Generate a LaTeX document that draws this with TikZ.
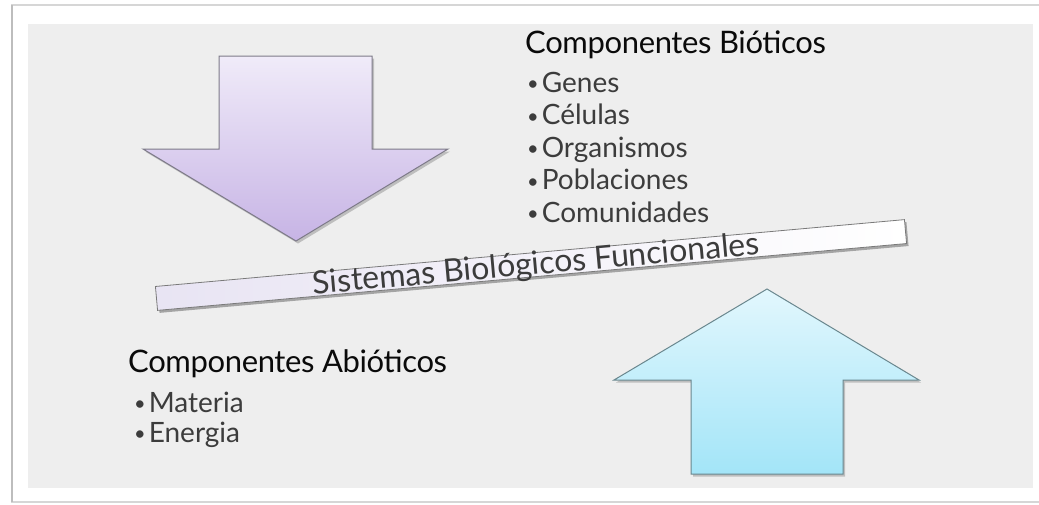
\documentclass[tikz,border=0pt]{standalone}
\usepackage{fontspec}
\setmainfont{Lato}
\usetikzlibrary{shadows}
\definecolor{panel}{HTML}{EEEEEE}
\definecolor{framegray}{HTML}{D6D6D6}
\definecolor{frameleft}{HTML}{BDBDBD}
\definecolor{purptop}{HTML}{F0EBF9}
\definecolor{purpbot}{HTML}{C7B4E5}
\definecolor{purpline}{HTML}{7D7A88}
\definecolor{cyantop}{HTML}{E2F7FD}
\definecolor{cyanbot}{HTML}{A3E5F8}
\definecolor{cyanline}{HTML}{6A878E}
\definecolor{bannerleft}{HTML}{E8E4F3}
\definecolor{bannerline}{HTML}{7A7A7A}
\definecolor{textgray}{HTML}{3C3C3C}
\definecolor{titleblack}{HTML}{0A0A0A}
\tikzset{
  bigarrow/.style={line width=1pt, drop shadow={shadow xshift=2pt, shadow yshift=-2.5pt, opacity=0.35, fill=black!60}},
  bannerbox/.style={draw=bannerline, line width=0.8pt, left color=bannerleft, right color=white, inner sep=0pt,
     drop shadow={shadow xshift=2pt, shadow yshift=-2.5pt, opacity=0.45, fill=black!70}},
  titletext/.style={anchor=base west, inner sep=0pt, text=titleblack, font=\fontsize{31}{36}\selectfont\addfontfeature{LetterSpace=-1.2}},
  itemtext/.style={anchor=base west, inner sep=0pt, text=textgray, font=\fontsize{28}{32}\selectfont},
}
\newcommand{\itembullet}{{\fontsize{20}{24}\selectfont\raisebox{1.5pt}{\textbullet}}\hspace{3pt}}
\begin{document}
\begin{tikzpicture}[x=1pt,y=-1pt]
\useasboundingbox (0,0) rectangle (1039,504);
\fill[white] (0,0) rectangle (1039,504);
% outer frame
\draw[framegray, line width=1.2pt] (11,5) -- (1039,5);
\draw[framegray, line width=1.5pt] (11,502) -- (1039,502);
\draw[frameleft, line width=1.5pt] (12,5) -- (12,502);
% gray panel
\fill[panel] (28,24) rectangle (1033,488);
% down arrow (purple)
\draw[bigarrow, draw=purpline, top color=purptop, bottom color=purpbot]
  (219,56) -- (372,56) -- (372,149) -- (448,149) -- (296,241) -- (143,149) -- (219,149) -- cycle;
% up arrow (cyan)
\draw[bigarrow, draw=cyanline, top color=cyantop, bottom color=cyanbot]
  (691,474) -- (843,474) -- (843,380) -- (919,380) -- (767,289) -- (614,380) -- (691,380) -- cycle;
% banner
\node[bannerbox, rotate=5.1, minimum width=752pt, minimum height=24pt] (banner) at (531,265) {};
\node[anchor=base, rotate=5.1, inner sep=0pt, text=textgray, font=\fontsize{32}{38}\selectfont] (bannertext) at (537,274.5) {Sistemas Biológicos Funcionales};
% biotic
\node[titletext] (biotitle) at (525,53) {Componentes Bióticos};
\node[itemtext] (b1) at (527,92) {\itembullet Genes};
\node[itemtext] (b2) at (527,124.5) {\itembullet Células};
\node[itemtext] (b3) at (527,157) {\itembullet Organismos};
\node[itemtext] (b4) at (527,189.5) {\itembullet Poblaciones};
\node[itemtext] (b5) at (527,222) {\itembullet Comunidades};
% abiotic
\node[titletext] (abiotitle) at (128,372) {Componentes Abióticos};
\node[itemtext] (a1) at (134,412) {\itembullet Materia};
\node[itemtext] (a2) at (134,442) {\itembullet Energia};
\end{tikzpicture}
\end{document}
